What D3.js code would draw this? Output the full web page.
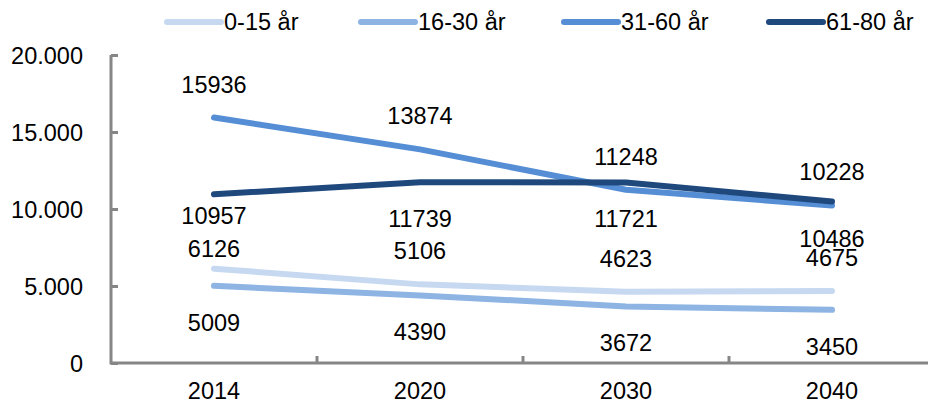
<!DOCTYPE html>
<html>
<head>
<meta charset="utf-8">
<script src="https://cdn.jsdelivr.net/npm/d3@7"></script>
<style>
  body { margin: 0; background: #fff; }
  text { font-family: "Liberation Sans", Arial, sans-serif; font-size: 23.5px; fill: #000; }
</style>
</head>
<body>
<svg id="chart" width="928" height="401"></svg>
<script>
// data
var years = ['2014', '2020', '2030', '2040'];
var series_names = ['0-15 år', '16-30 år', '31-60 år', '61-80 år'];
var age_0_15 = [6126, 5106, 4623, 4675];
var age_16_30 = [5009, 4390, 3672, 3450];
var age_31_60 = [15936, 13874, 11248, 10228];
var age_61_80 = [10957, 11739, 11721, 10486];
var y_ticks = [0, 5000, 10000, 15000, 20000];

var colors = ['#c6d9f1', '#8db4e2', '#558ed5', '#1f497d'];
// label placement like the excel chart: above or below the point
var label_side = ['above', 'below', 'above', 'below'];
// a couple of labels were dragged by hand in the original
var label_nudge = { '0|2014': 13, '3|2014': -15 };

var values = [age_0_15, age_16_30, age_31_60, age_61_80];

var svg = d3.select('#chart');
// (window.top is reserved, so plot_* names)
var plot_left = 111, plot_right = 935, plot_top = 55, plot_bottom = 363;

var x = d3.scaleBand().domain(years).range([plot_left, plot_right]);
var y = d3.scaleLinear().domain([0, 20000]).range([plot_bottom, plot_top]);
var cx = function(d) { return x(d) + x.bandwidth() / 2; };

var locale = d3.formatLocale({ decimal: ',', thousands: '.', grouping: [3], currency: ['', ' kr'] });
var fmt = locale.format(',');

// y axis
var yAxis = svg.append('g')
    .attr('transform', 'translate(' + plot_left + ',0)')
    .call(d3.axisLeft(y).tickValues(y_ticks).tickSize(-7).tickPadding(28).tickFormat(fmt));
yAxis.select('.domain').remove();
yAxis.selectAll('line').attr('stroke', '#868686').attr('stroke-width', 3);
yAxis.selectAll('text').attr('font-family', null).attr('font-size', null).attr('dy', '0.36em');

// x axis labels at band centers
var xAxis = svg.append('g')
    .attr('transform', 'translate(0,' + plot_bottom + ')')
    .call(d3.axisBottom(x).tickSize(0).tickPadding(19));
xAxis.select('.domain').remove();
xAxis.selectAll('text').attr('font-family', null).attr('font-size', null);

// tick marks at band boundaries
svg.append('g').selectAll('line')
    .data(years.slice(1))
    .join('line')
    .attr('x1', function(d) { return x(d); })
    .attr('x2', function(d) { return x(d); })
    .attr('y1', plot_bottom)
    .attr('y2', plot_bottom - 7)
    .attr('stroke', '#868686')
    .attr('stroke-width', 3);

// axis lines
svg.append('path')
    .attr('d', 'M' + plot_left + ',' + plot_top + 'V' + plot_bottom + 'H' + plot_right)
    .attr('fill', 'none')
    .attr('stroke', '#868686')
    .attr('stroke-width', 3);

var line = d3.line()
    .x(function(d, i) { return cx(years[i]); })
    .y(function(d) { return y(d); });

svg.append('g').selectAll('path')
    .data(values)
    .join('path')
    .attr('d', line)
    .attr('fill', 'none')
    .attr('stroke', function(d, i) { return colors[i]; })
    .attr('stroke-width', 6)
    .attr('stroke-linecap', 'round')
    .attr('stroke-linejoin', 'round');

// data labels
values.forEach(function(vals, s) {
    svg.append('g').selectAll('text')
        .data(vals)
        .join('text')
        .attr('text-anchor', 'middle')
        .attr('x', function(d, i) { return cx(years[i]); })
        .attr('y', function(d, i) {
            var off = label_side[s] == 'above' ? -25 : 45;
            off += label_nudge[s + '|' + years[i]] || 0;
            return y(d) + off;
        })
        .text(function(d) { return d; });
});

// legend
var legend_x = [167, 361, 564, 769];
var legend = svg.append('g').selectAll('g')
    .data(series_names)
    .join('g')
    .attr('transform', function(d, i) { return 'translate(' + legend_x[i] + ',22)'; });
legend.append('line')
    .attr('x1', 0).attr('x2', 54)
    .attr('stroke', function(d, i) { return colors[i]; })
    .attr('stroke-width', 6)
    .attr('stroke-linecap', 'round');
legend.append('text')
    .attr('x', 57)
    .attr('y', 8)
    .text(function(d) { return d; });
</script>
</body>
</html>
